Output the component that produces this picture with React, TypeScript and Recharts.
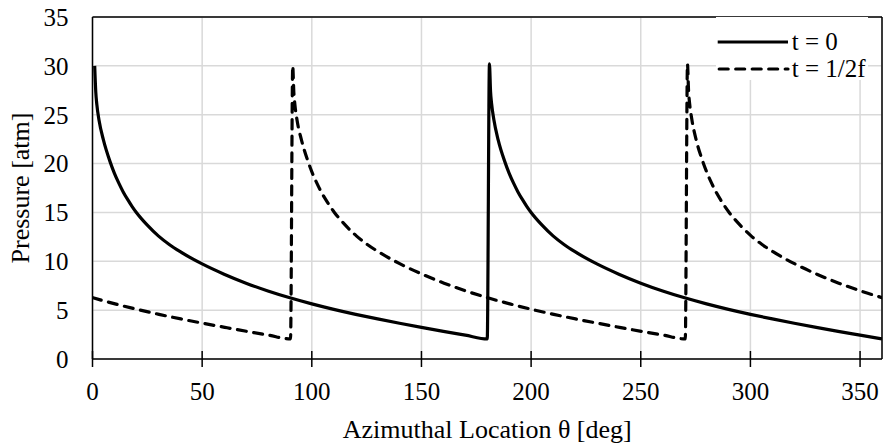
import { LineChart, Line, XAxis, YAxis, CartesianGrid, ReferenceLine, Legend, Label } from "recharts";

const FONT = '"Liberation Serif", "Times New Roman", serif';

// t = 0 (solid)
const SOLID_X = [1, 1.5, 2, 3, 5, 8, 10, 12, 14, 16, 18, 20, 25, 30, 35, 40, 50, 60, 70, 80, 90, 100, 110, 120, 130, 140, 150, 160, 170, 180,
  181, 181.5, 182, 183, 185, 188, 190, 192, 194, 196, 198, 200, 205, 210, 215, 220, 230, 240, 250, 260, 270, 280, 290, 300, 310, 320, 330, 340, 350, 360];
const SOLID_Y = [30, 27.3, 26, 24.4, 22.4, 20.2, 19, 18, 17.1, 16.33, 15.63, 15, 13.7, 12.6, 11.72, 10.98, 9.73, 8.68, 7.76, 6.96, 6.26, 5.64, 5.08, 4.57, 4.1, 3.66, 3.24, 2.83, 2.44, 2.05,
  30.2, 27.4, 26.1, 24.5, 22.4, 20.2, 19, 18, 17.1, 16.33, 15.63, 15, 13.7, 12.6, 11.72, 10.98, 9.73, 8.68, 7.76, 6.96, 6.26, 5.64, 5.08, 4.57, 4.1, 3.66, 3.24, 2.83, 2.44, 2.05];

// t = 1/2f (dashed)
const DASH_X = [0, 10.3, 20.3, 30.3, 40.3, 50.3, 60.3, 70.3, 80.3, 90.3,
  91.3, 91.8, 92.3, 93.3, 95.3, 98.3, 100.3, 102.3, 104.3, 106.3, 108.3, 110.3, 115.3, 120.3, 125.3, 130.3, 140.3, 150.3, 160.3, 170.3,
  180.3, 190.3, 200.3, 210.3, 220.3, 230.3, 240.3, 250.3, 260.3, 270.3,
  271.3, 271.8, 272.3, 273.3, 275.3, 278.3, 280.3, 282.3, 284.3, 286.3, 288.3, 290.3, 295.3, 300.3, 305.3, 310.3, 320.3, 330.3, 340.3, 350.3, 360];
const DASH_Y = [6.28, 5.64, 5.08, 4.57, 4.1, 3.66, 3.24, 2.83, 2.44, 2.05,
  30, 27.3, 26, 24.4, 22.4, 20.2, 19, 18, 17.1, 16.33, 15.63, 15, 13.7, 12.6, 11.72, 10.98, 9.73, 8.68, 7.76, 6.96,
  6.26, 5.64, 5.08, 4.57, 4.1, 3.66, 3.24, 2.83, 2.44, 2.05,
  30.2, 27.4, 26.1, 24.5, 22.4, 20.2, 19, 18, 17.1, 16.33, 15.63, 15, 13.7, 12.6, 11.72, 10.98, 9.73, 8.68, 7.76, 6.96, 6.28];

const X_TICKS = [0, 50, 100, 150, 200, 250, 300, 350];
const Y_TICKS = [0, 5, 10, 15, 20, 25, 30, 35];
const SERIES_NAMES = ["t = 0", "t = 1/2f"];

const DASH = "9 7.5";
const X_TICK_MARGIN = 24;

const solidData = SOLID_X.map((x, i) => ({ x, y: SOLID_Y[i] }));
const dashData = DASH_X.map((x, i) => ({ x, y: DASH_Y[i] }));

function XTick(props: any) {
  const { x, y, payload } = props;
  const axisY = y - X_TICK_MARGIN;
  return (
    <g>
      <line x1={x} x2={x} y1={axisY - 8} y2={axisY + 8} stroke="#000" strokeWidth={1.5} />
      <text x={x} y={y + 17} textAnchor="middle" fontSize={25} fontFamily={FONT} fill="#000">
        {payload.value}
      </text>
    </g>
  );
}

function renderLegend() {
  return (
    <div style={{ fontFamily: FONT, fontSize: 25, color: "#000", paddingTop: 11 }}>
      {SERIES_NAMES.map((name, i) => (
        <div key={name} style={{ display: "flex", alignItems: "center", height: 27.3, lineHeight: "27px", whiteSpace: "nowrap" }}>
          <svg width={74} height={6} style={{ display: "block" }}>
            <line
              x1={i === 0 ? 1.7 : 3.2}
              x2={72}
              y1={3}
              y2={3}
              stroke="#000"
              strokeWidth={3.2}
              strokeDasharray={i === 0 ? undefined : DASH}
              strokeLinecap={i === 0 ? "butt" : "round"}
            />
          </svg>
          <span style={{ marginLeft: 1.7 }}>{name}</span>
        </div>
      ))}
    </div>
  );
}

export default function App() {
  return (
    <div style={{ width: 883, height: 445, position: "relative", background: "#fff" }}>
      <style>{"body{margin:0}"}</style>
      <LineChart width={883} height={445} margin={{ top: 17, right: 1, bottom: 0, left: 0 }}>
        <CartesianGrid stroke="#d9d9d9" strokeWidth={1.5} />
        <XAxis
          dataKey="x"
          type="number"
          domain={[0, 360]}
          ticks={X_TICKS}
          allowDataOverflow
          height={86}
          axisLine={{ stroke: "#000", strokeWidth: 1.5 }}
          tickLine={false}
          tickSize={0}
          tickMargin={X_TICK_MARGIN}
          tick={<XTick />}
          interval={0}
        >
          <Label
            value="Azimuthal Location θ [deg]"
            position="insideBottom"
            offset={7}
            style={{ fontFamily: FONT, fontSize: 26, fill: "#000" }}
          />
        </XAxis>
        <YAxis
          type="number"
          domain={[0, 35]}
          ticks={Y_TICKS}
          width={92.5}
          axisLine={{ stroke: "#000", strokeWidth: 1.5 }}
          tickLine={false}
          tickSize={0}
          tickMargin={24}
          interval={0}
          tick={{ fontFamily: FONT, fontSize: 25, fill: "#000" }}
        >
          <Label
            value="Pressure [atm]"
            angle={-90}
            position="insideLeft"
            offset={20}
            style={{ fontFamily: FONT, fontSize: 26, fill: "#000", textAnchor: "middle" }}
          />
        </YAxis>
        <ReferenceLine y={35} stroke="#000" strokeWidth={1.5} />
        <ReferenceLine x={360} stroke="#000" strokeWidth={1.5} />
        <Line
          data={solidData}
          dataKey="y"
          name={SERIES_NAMES[0]}
          type="monotone"
          stroke="#000"
          strokeWidth={3.2}
          dot={false}
          activeDot={false}
          isAnimationActive={false}
        />
        <Line
          data={dashData}
          dataKey="y"
          name={SERIES_NAMES[1]}
          type="monotone"
          stroke="#000"
          strokeWidth={3.2}
          strokeDasharray={DASH}
          strokeLinecap="round"
          dot={false}
          activeDot={false}
          isAnimationActive={false}
        />
        <Legend
          layout="vertical"
          align="center"
          verticalAlign="middle"
          content={renderLegend}
          wrapperStyle={{ position: "absolute", left: 716, top: 17, width: 152, height: 63, background: "#fff" }}
        />
      </LineChart>
    </div>
  );
}
